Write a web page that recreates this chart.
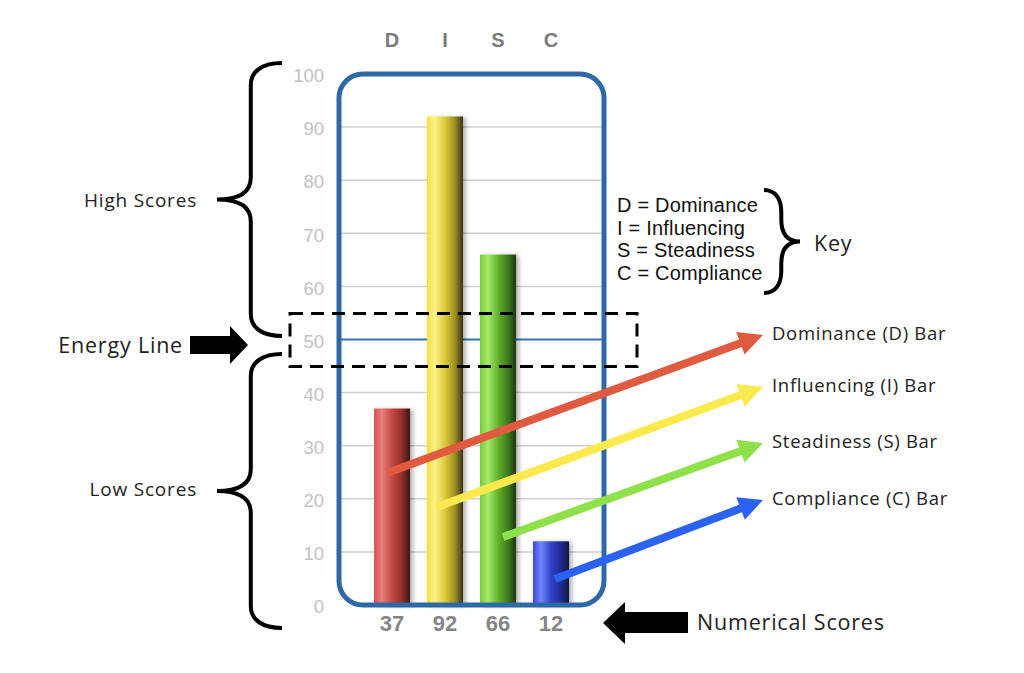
<!DOCTYPE html>
<html>
<head>
<meta charset="utf-8">
<script src="https://cdn.jsdelivr.net/npm/d3@7"></script>
<style>
  html, body { margin: 0; padding: 0; background: #fff; }
  svg text { font-family: 'Liberation Sans', Arial, sans-serif; }
  .note { font-family: 'Open Sans', Lato, sans-serif; fill: #222; }
</style>
</head>
<body>
<div id="chart"></div>
<script>
// data
const categories = ['D', 'I', 'S', 'C']
const scores = [37, 92, 66, 12]
const yTicks = [0, 10, 20, 30, 40, 50, 60, 70, 80, 90, 100]
const keyLabels = ['D = Dominance', 'I = Influencing', 'S = Steadiness', 'C = Compliance']
const barLabels = ['Dominance (D) Bar', 'Influencing (I) Bar', 'Steadiness (S) Bar', 'Compliance (C) Bar']
const energyLevel = 50

// styles
const arrowColors = ['#e05a3f', '#fbe94e', '#8fe14b', '#2b62f2']
const barStops = [
  ['#d65550', '#e67e80', '#c24a42', '#8e2f28', '#3c1412'],
  ['#f5de3a', '#fbf38c', '#dcc838', '#9d8d22', '#35321a'],
  ['#76cc34', '#a6ea6c', '#64b22c', '#3f7a1c', '#1f3510'],
  ['#3447dc', '#6f86ff', '#3142c6', '#1f2c8e', '#10163e']
]

const width = 1024
const height = 673

const svg = d3
  .select('#chart')
  .append('svg')
  .attr('width', width)
  .attr('height', height)

const xPositionScale = d3
  .scaleBand()
  .domain(categories)
  .range([365.5, 577.5])
  .paddingInner(0.32)
  .paddingOuter(0.16)

const yPositionScale = d3
  .scaleLinear()
  .domain([0, 100])
  .range([605, 74])

// gradients for the cylinder look
const defs = svg.append('defs')
categories.forEach((c, i) => {
  const g = defs
    .append('linearGradient')
    .attr('id', 'grad-' + c)
    .attr('x1', '0%')
    .attr('x2', '100%')
    .attr('y1', '0%')
    .attr('y2', '0%')
  const offsets = [0, 0.22, 0.5, 0.78, 1]
  barStops[i].forEach((col, j) => {
    g.append('stop').attr('offset', offsets[j]).attr('stop-color', col)
  })
})

const shadow = defs.append('filter').attr('id', 'shadow').attr('x', '-20%').attr('width', '160%')
shadow
  .append('feDropShadow')
  .attr('dx', 3)
  .attr('dy', 1)
  .attr('stdDeviation', 2)
  .attr('flood-color', '#000')
  .attr('flood-opacity', 0.3)

const boxLeft = 339
const boxRight = 604

// gridlines
svg
  .selectAll('.grid')
  .data(yTicks.filter(d => d !== 0 && d !== 100 && d !== energyLevel))
  .enter()
  .append('line')
  .attr('class', 'grid')
  .attr('x1', boxLeft)
  .attr('x2', boxRight)
  .attr('y1', d => yPositionScale(d))
  .attr('y2', d => yPositionScale(d))
  .attr('stroke', '#cfcfcf')
  .attr('stroke-width', 1.5)

// energy line
svg
  .append('line')
  .attr('x1', boxLeft)
  .attr('x2', boxRight)
  .attr('y1', yPositionScale(energyLevel))
  .attr('y2', yPositionScale(energyLevel))
  .attr('stroke', '#3b72ae')
  .attr('stroke-width', 2)

// y tick labels
const yAxis = d3
  .axisLeft(yPositionScale)
  .tickValues(yTicks)
  .tickSize(0)
  .tickPadding(0)

svg
  .append('g')
  .attr('class', 'y-axis')
  .attr('transform', 'translate(324,0)')
  .call(yAxis)
  .call(g => g.select('.domain').remove())
  .selectAll('text')
  .attr('dy', '0.42em')
  .attr('font-size', 18.5)
  .attr('font-family', "'Liberation Sans', Arial, sans-serif")
  .attr('fill', '#c2c2c2')

// bars
svg
  .selectAll('.bar')
  .data(scores)
  .enter()
  .append('rect')
  .attr('class', 'bar')
  .attr('x', (d, i) => xPositionScale(categories[i]))
  .attr('y', d => yPositionScale(d))
  .attr('width', xPositionScale.bandwidth())
  .attr('height', d => yPositionScale(0) - yPositionScale(d))
  .attr('fill', (d, i) => 'url(#grad-' + categories[i] + ')')
  .attr('filter', 'url(#shadow)')

// rounded frame
svg
  .append('rect')
  .attr('x', boxLeft)
  .attr('y', yPositionScale(100))
  .attr('width', boxRight - boxLeft)
  .attr('height', yPositionScale(0) - yPositionScale(100))
  .attr('rx', 24)
  .attr('fill', 'none')
  .attr('stroke', '#2f69a5')
  .attr('stroke-width', 5)

// top letters
svg
  .selectAll('.cat')
  .data(categories)
  .enter()
  .append('text')
  .attr('class', 'cat')
  .attr('x', d => xPositionScale(d) + xPositionScale.bandwidth() / 2)
  .attr('y', 47)
  .attr('text-anchor', 'middle')
  .attr('font-size', 20)
  .attr('font-weight', 'bold')
  .attr('fill', '#7b7b7b')
  .text(d => d)

// bottom scores
svg
  .selectAll('.score')
  .data(scores)
  .enter()
  .append('text')
  .attr('class', 'score')
  .attr('x', (d, i) => xPositionScale(categories[i]) + xPositionScale.bandwidth() / 2)
  .attr('y', 631)
  .attr('text-anchor', 'middle')
  .attr('font-size', 22)
  .attr('font-weight', 'bold')
  .attr('fill', '#858585')
  .text(d => d)

// dashed box round the energy line
const yE = yPositionScale(energyLevel)
svg
  .append('rect')
  .attr('x', 290)
  .attr('y', yE - 26)
  .attr('width', 347)
  .attr('height', 53)
  .attr('fill', 'none')
  .attr('stroke', '#000')
  .attr('stroke-width', 3)
  .attr('stroke-dasharray', '13,8')

// curly braces
function brace(x0, top, bottom, depth, dir) {
  // dir -1 points left, +1 points right
  const mid = (top + bottom) / 2
  const arm = x0 + dir * depth * 0.48
  const tip = x0 + dir * depth
  const r = 22
  return [
    'M', x0, top,
    'C', x0 + dir * depth * 0.3, top, arm, top + 8, arm, top + r,
    'L', arm, mid - r,
    'C', arm, mid - 6, arm + dir * depth * 0.2, mid, tip, mid,
    'C', arm + dir * depth * 0.2, mid, arm, mid + 6, arm, mid + r,
    'L', arm, bottom - r,
    'C', arm, bottom - 8, x0 + dir * depth * 0.3, bottom, x0, bottom
  ].join(' ')
}

svg
  .append('path')
  .attr('d', brace(282, 63, 336, 65, -1))
  .attr('fill', 'none')
  .attr('stroke', '#000')
  .attr('stroke-width', 4)

svg
  .append('path')
  .attr('d', brace(282, 354, 628, 65, -1))
  .attr('fill', 'none')
  .attr('stroke', '#000')
  .attr('stroke-width', 4)

svg
  .append('path')
  .attr('d', brace(764, 190, 293, 36, 1))
  .attr('fill', 'none')
  .attr('stroke', '#000')
  .attr('stroke-width', 4)

// key text
svg
  .selectAll('.key')
  .data(keyLabels)
  .enter()
  .append('text')
  .attr('class', 'key')
  .attr('x', 617)
  .attr('y', (d, i) => 212 + i * 22.6)
  .attr('font-size', 20)
  .attr('letter-spacing', 0.2)
  .attr('fill', '#111')
  .text(d => d)

// side notes
const notes = [
  { t: 'High Scores', x: 197, y: 207, s: 19, a: 'end' },
  { t: 'Low Scores', x: 197, y: 496, s: 19, a: 'end' },
  { t: 'Energy Line', x: 183, y: 353, s: 21.5, a: 'end' },
  { t: 'Key', x: 814, y: 251, s: 21.5, a: 'start' },
  { t: 'Numerical Scores', x: 697, y: 630, s: 21.5, a: 'start' }
]
svg
  .selectAll('.note')
  .data(notes)
  .enter()
  .append('text')
  .attr('class', 'note')
  .attr('x', d => d.x)
  .attr('y', d => d.y)
  .attr('font-size', d => d.s)
  .attr('letter-spacing', 0.8)
  .attr('text-anchor', d => d.a)
  .text(d => d.t)

// block arrows
svg
  .append('path')
  .attr('d', 'M190,336 L230,336 L230,326 L248,345 L230,364 L230,354 L190,354 Z')
  .attr('fill', '#000')
svg
  .append('path')
  .attr('d', 'M688,612 L625,612 L625,602 L603,623 L625,644 L625,633 L688,633 Z')
  .attr('fill', '#000')

// coloured pointer arrows from each bar to its label
const starts = [[387, 473], [437, 507], [503, 537], [555, 579]]
const tips = [[763, 335], [763, 387], [763, 443], [763, 500]]

categories.forEach((c, i) => {
  const [x0, y0] = starts[i]
  const [x1, y1] = tips[i]
  const len = Math.hypot(x1 - x0, y1 - y0)
  const ux = (x1 - x0) / len
  const uy = (y1 - y0) / len
  const headLen = 24
  const headW = 12
  const bx = x1 - ux * headLen
  const by = y1 - uy * headLen
  svg
    .append('line')
    .attr('x1', x0)
    .attr('y1', y0)
    .attr('x2', bx + ux * 2)
    .attr('y2', by + uy * 2)
    .attr('stroke', arrowColors[i])
    .attr('stroke-width', 8)
  svg
    .append('polygon')
    .attr('points', [
      [x1, y1],
      [bx - uy * headW, by + ux * headW],
      [bx + uy * headW, by - ux * headW]
    ].map(p => p.join(',')).join(' '))
    .attr('fill', arrowColors[i])
})

// labels at the arrow tips
svg
  .selectAll('.bar-label')
  .data(barLabels)
  .enter()
  .append('text')
  .attr('class', 'note bar-label')
  .attr('x', 772)
  .attr('y', (d, i) => tips[i][1] + 5)
  .attr('font-size', 18.5)
  .attr('letter-spacing', 0.7)
  .text(d => d)
</script>
</body>
</html>
